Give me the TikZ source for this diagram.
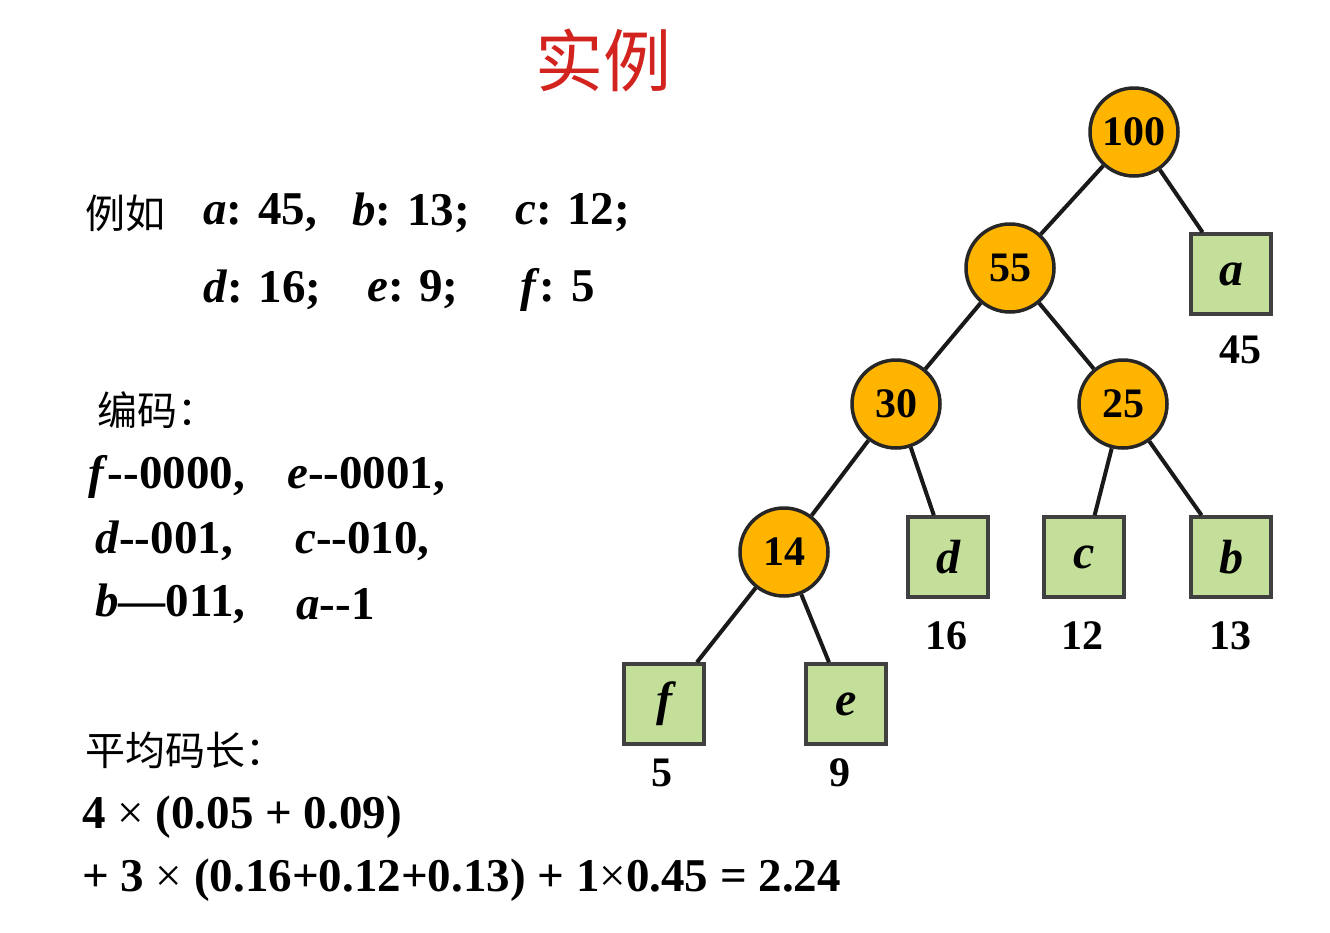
\documentclass[tikz,border=0pt]{standalone}
\usepackage{fontspec}
\setmainfont{Liberation Serif}
\newfontfamily\cjk{Noto Sans CJK SC}
\definecolor{orng}{HTML}{FFB500}
\definecolor{lgrn}{HTML}{C4DF9A}
\definecolor{ttl}{HTML}{D2231E}
\begin{document}
\begin{tikzpicture}[x=1pt,y=-1pt,
  cnode/.style={circle,draw=black!85,line width=3.5pt,fill=orng,minimum size=88pt,inner sep=0pt,font=\fontsize{42}{46}\bfseries\selectfont},
  snode/.style={rectangle,draw=black!75,line width=3.5pt,fill=lgrn,minimum size=80pt,inner sep=0pt,font=\fontsize{48}{52}\bfseries\itshape\selectfont},
  wlab/.style={font=\fontsize{42}{46}\bfseries\selectfont},
  txt/.style={anchor=west,inner sep=0pt,font=\fontsize{47}{52}\bfseries\selectfont},
  ctxt/.style={anchor=west,inner sep=0pt,font=\cjk\fontsize{40}{44}\selectfont},
  edge/.style={line width=4pt,black!90}]
\useasboundingbox (0,0) rectangle (1330,932);
\fill[white] (0,0) rectangle (1330,932);
\node[text=ttl,font=\cjk\fontsize{68}{72}\selectfont] (title) at (603,60) {实例};
\node[cnode] (n100) at (1134,132) {100};
\node[cnode] (n55) at (1010,268) {55};
\node[snode] (a) at (1231,274) {a};
\node[cnode] (n30) at (896,404) {30};
\node[cnode] (n25) at (1123,404) {25};
\node[cnode] (n14) at (784,552) {14};
\node[snode] (d) at (948,557) {d};
\node[snode] (c) at (1084,557) {c};
\node[snode] (b) at (1231,557) {b};
\node[snode] (f) at (664,704) {f};
\node[snode] (e) at (846,704) {e};
\draw[edge] (n100) -- (n55);
\draw[edge] (n100) -- (a);
\draw[edge] (n55) -- (n30);
\draw[edge] (n55) -- (n25);
\draw[edge] (n30) -- (n14);
\draw[edge] (n30) -- (d);
\draw[edge] (n25) -- (c);
\draw[edge] (n25) -- (b);
\draw[edge] (n14) -- (f);
\draw[edge] (n14) -- (e);
\node[wlab] (la) at (1240,350) {45};
\node[wlab] (ld) at (946,636) {16};
\node[wlab] (lc) at (1082,636) {12};
\node[wlab] (lb) at (1230,636) {13};
\node[wlab] (lf) at (662,773) {5};
\node[wlab] (le) at (840,773) {9};
% left texts
\node[ctxt] (t1) at (85,213) {例如};
\node[txt] (t2) at (203,213) {\textit{a}: 45,};
\node[txt] (t3) at (352,213) {\textit{b}: 13;};
\node[txt] (t4) at (515,213) {\textit{c}: 12;};
\node[txt] (t5) at (203,290) {\textit{d}: 16;};
\node[txt] (t6) at (367,290) {\textit{e}: 9;};
\node[txt] (t7) at (520,290) {\textit{f}: 5};
\node[ctxt] (t8) at (97,410) {编码：};
\node[txt] (t9) at (88,477) {\textit{f}-{}-0000,};
\node[txt] (t10) at (287,477) {\textit{e}-{}-0001,};
\node[txt] (t11) at (95,541) {\textit{d}-{}-001,};
\node[txt] (t12) at (295,541) {\textit{c}-{}-010,};
\node[txt] (t13) at (95,604) {\textit{b}---011,};
\node[txt] (t14) at (296,604) {\textit{a}-{}-1};
\node[ctxt] (t15) at (85,750) {平均码长：};
\node[txt] (t16) at (82,817) {4 {\mdseries ×} (0.05 + 0.09)};
\node[txt] (t17) at (82,880) {+ 3 {\mdseries ×} (0.16+0.12+0.13) + 1{\mdseries ×}0.45 = 2.24};
\end{tikzpicture}
\end{document}
